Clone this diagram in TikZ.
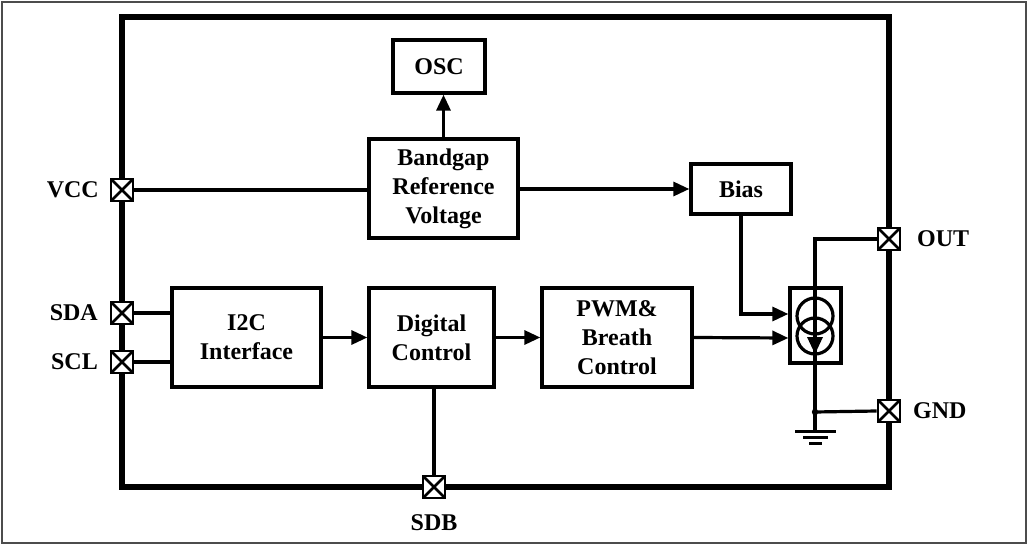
\documentclass[tikz,border=0pt]{standalone}
\usepackage{fontspec}
\setmainfont{Liberation Serif}
\usetikzlibrary{arrows.meta,calc}
\begin{document}
\begin{tikzpicture}[x=1pt,y=-1pt,
  every node/.style={font=\fontsize{24}{29}\selectfont\bfseries},
  blk/.style={draw,line width=3.3pt,inner sep=0pt,align=center,fill=white},
  pinbox/.style={draw,line width=2.8pt,fill=white,minimum size=22pt,inner sep=0pt,
    path picture={\draw[line width=2.6pt] (path picture bounding box.north west) -- (path picture bounding box.south east)
      (path picture bounding box.north east) -- (path picture bounding box.south west);}},
  wire/.style={line width=3.2pt},
  arr/.style={wire,-{Triangle[length=16pt,width=14pt]}},
  lbl/.style={inner sep=0pt}]
\useasboundingbox (0,0) rectangle (1028,545);
\draw[line width=2.2pt,draw=black!70] (2,2) rectangle (1026,543);
% chip
\draw[line width=5.5pt] (122,17) rectangle (889,487);
% blocks
\node[blk,minimum width=92pt,minimum height=53pt] (osc) at (439,66.5) {OSC};
\node[blk,minimum width=149pt,minimum height=99pt] (bg) at (443.5,188.5) {Bandgap\\Reference\\Voltage};
\node[blk,minimum width=100pt,minimum height=50pt] (bias) at (741,189) {Bias};
\node[blk,minimum width=149pt,minimum height=99pt] (i2c) at (246.5,337.5) {I2C\\Interface};
\node[blk,minimum width=125pt,minimum height=99pt] (dig) at (431.5,337.5) {Digital\\Control};
\node[blk,minimum width=150pt,minimum height=99pt] (pwm) at (617,337.5) {PWM\&\\Breath\\Control};
\node[blk,minimum width=51pt,minimum height=75pt] (cs) at (815.5,325.5) {};
% pins
\node[pinbox] (vcc) at (122,190) {};
\node[pinbox] (sda) at (122,313) {};
\node[pinbox] (scl) at (122,362) {};
\node[pinbox] (sdb) at (434,487) {};
\node[pinbox] (out) at (889,239) {};
\node[pinbox] (gnd) at (889,411) {};
% pin labels
\node[lbl,anchor=east] (lvcc) at (99,190) {VCC};
\node[lbl,anchor=east] (lsda) at (98,313) {SDA};
\node[lbl,anchor=east] (lscl) at (98,362) {SCL};
\node[lbl] (lsdb) at (434,523) {SDB};
\node[lbl,anchor=west] (lout) at (917,239) {OUT};
\node[lbl,anchor=west] (lgnd) at (913,411) {GND};
% coordinates
\coordinate (cstop) at (815,239);
\coordinate (junc) at (815,412);
\coordinate (gtop) at (815,431);
\coordinate (biasin) at (cs.west |- 0,314);
\coordinate (pwmin) at (cs.west |- 0,338);
% wires
\draw[wire] (vcc.east) -- (vcc.east -| bg.west);
\draw[arr] (bg.east |- bias.west) -- (bias.west);
\draw[arr] (bg.north) -- (bg.north |- osc.south);
\draw[arr] (bias.south) |- (biasin);
\draw[wire] (sda.east) -- (sda.east -| i2c.west);
\draw[wire] (scl.east) -- (scl.east -| i2c.west);
\draw[arr] (i2c.east) -- (dig.west);
\draw[arr] (dig.east) -- (pwm.west);
\draw[arr] (pwm.east) -- (pwmin);
\draw[wire] (sdb.north) -- (sdb.north |- dig.south);
\draw[wire] (out.west) -- (cstop) -- (gtop);
\draw[wire] (junc) -- (gnd.west);
\fill (junc) circle (3.2pt);
% current source symbol
\draw[line width=3.2pt] (815,316) circle (18pt);
\draw[line width=3.2pt] (815,336) circle (18pt);
\fill (807,337) -- (823,337) -- (815,354) -- cycle;
% ground
\draw[line width=3pt] (795,431) -- (836,431);
\draw[line width=3pt] (803,437) -- (828,437);
\draw[line width=3pt] (809,443) -- (822,443);
\end{tikzpicture}
\end{document}
